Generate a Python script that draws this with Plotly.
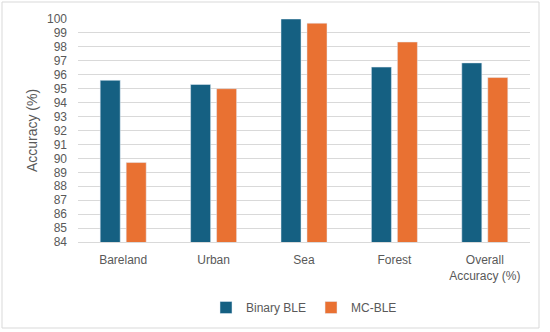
import plotly.graph_objects as go

categories = ["Bareland", "Urban", "Sea", "Forest", "Overall<br>Accuracy (%)"]
binary_ble = [95.6, 95.3, 100.0, 96.55, 96.85]
mc_ble = [89.7, 95.0, 99.7, 98.35, 95.8]
y_ticks = list(range(84, 101))

W, H = 550, 332
L, R, T, B = 78, 20, 19, 90
pw, ph = W - L - R, H - T - B

fig = go.Figure()
fig.add_trace(go.Bar(x=categories, y=binary_ble, name="Binary BLE", marker_color="#156082"))
fig.add_trace(go.Bar(x=categories, y=mc_ble, name="MC-BLE", marker_color="#E97132"))

fig.update_layout(
    width=W, height=H,
    margin=dict(l=L, r=R, t=T, b=B, autoexpand=False),
    paper_bgcolor="white", plot_bgcolor="white",
    font=dict(family="Liberation Sans, Arial, sans-serif", color="#595959", size=12),
    barmode="group", bargap=0.425, bargroupgap=0.23,
    showlegend=True,
    legend=dict(orientation="h", x=0.5, xanchor="center", y=1 - (293 - T) / ph, yanchor="top",
                font=dict(size=12, color="#595959"), itemwidth=30, traceorder="normal",
                tracegroupgap=0),
    xaxis=dict(showgrid=False, showline=True, linecolor="#D9D9D9", ticks="",
               ticklabelstandoff=7,
               tickfont=dict(size=12, color="#595959"), automargin=False),
    yaxis=dict(range=[84, 100], tickvals=y_ticks, ticktext=[str(v) for v in y_ticks],
               showgrid=True, gridcolor="#D9D9D9", zeroline=False, showline=False,
               ticklabelstandoff=10,
               tickfont=dict(size=12, color="#595959"), automargin=False,
               title=dict(text="Accuracy (%)", font=dict(size=14, color="#595959"), standoff=6)),
    shapes=[dict(type="rect", xref="paper", yref="paper",
                 x0=(2 - L) / pw, x1=(539 - L) / pw,
                 y0=1 - (328 - T) / ph, y1=1 - (2 - T) / ph,
                 line=dict(color="#D9D9D9", width=1), layer="below")],
)

fig.write_html("out.html", config={"displayModeBar": False},
               post_script="document.body.style.margin='0';")
